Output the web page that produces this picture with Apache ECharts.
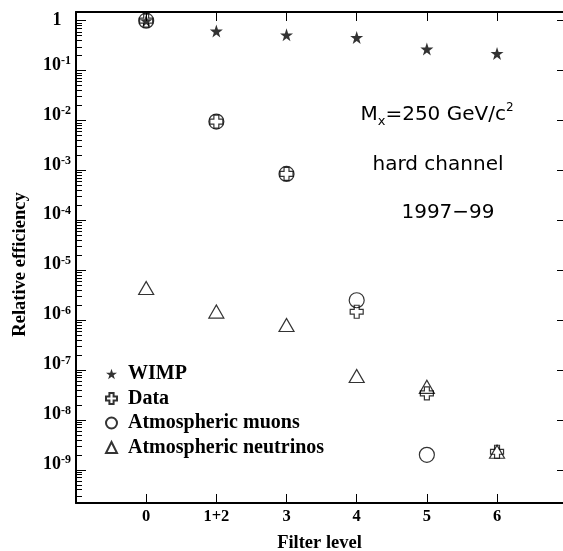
<!DOCTYPE html>
<html>
<head>
<meta charset="utf-8">
<title>Relative efficiency</title>
<script src="https://cdn.jsdelivr.net/npm/echarts@6.0.0/dist/echarts.min.js"></script>
<style>
  html, body { margin: 0; padding: 0; background: #fff; }
  #chart { width: 563px; height: 551px; }
</style>
</head>
<body>
<div id="chart"></div>
<script>
// values
var filterLevels = ['0', '1+2', '3', '4', '5', '6'];
var wimp = [1, 0.62, 0.52, 0.46, 0.27, 0.22];
var dataEvents = [1, 9.5e-3, 8.5e-4, 1.47e-6, 3.4e-8, 2.3e-9];
var atmMuons = [1, 9.5e-3, 8.5e-4, 2.5e-6, 2.0e-9, null];
var atmNeutrinos = [4.4e-6, 1.48e-6, 8.0e-7, 7.6e-8, 4.6e-8, 2.3e-9];
var decadeExponents = [0, -1, -2, -3, -4, -5, -6, -7, -8, -9];

var yMin = Math.pow(10, -9.665);
var yMax = Math.pow(10, 0.174);
var tickFactor = Math.pow(10, 9 / 49.9); // ~9px on the log axis

var decadeTicks = decadeExponents.map(function (e) { return Math.pow(10, e); });
var minorTicks = [];
for (var e = -10; e <= 0; e++) {
    for (var k = 2; k <= 9; k++) {
        var v = k * Math.pow(10, e);
        if (v > yMin && v < yMax) minorTicks.push(v);
    }
}

function points(arr) {
    var out = [];
    arr.forEach(function (v, i) { if (v != null) out.push([i, v]); });
    return out;
}

// x ticks on the bottom and top frame lines
var xTickLines = [];
filterLevels.forEach(function (lbl, i) {
    xTickLines.push([{ coord: [i, yMin] }, { coord: [i, yMin * tickFactor] }]);
    xTickLines.push([{ coord: [i, yMax] }, { coord: [i, yMax / tickFactor] }]);
});

var starPath = 'path://M50,0 L61.8,35.1 L98.1,35.1 L68.8,56.7 L79.4,90.9 L50,69.1 L20.6,90.9 L31.2,56.7 L1.9,35.1 L38.2,35.1 Z';
var crossPath = 'path://M31,0 L69,0 L69,31 L100,31 L100,69 L69,69 L69,100 L31,100 L31,69 L0,69 L0,31 L31,31 Z';

var serif = 'Liberation Serif';
var hollow = { color: 'rgba(0,0,0,0)', borderColor: '#000', borderWidth: 1.2 };

var chart = echarts.init(document.getElementById('chart'));

chart.setOption({
    animation: false,
    backgroundColor: '#fff',
    grid: { left: 76, right: 0, top: 12, bottom: 48, outerBoundsMode: 'none' },
    legend: {
        orient: 'vertical',
        left: 100,
        top: 359,
        itemWidth: 11,
        itemHeight: 11,
        itemGap: 4.5,
        textStyle: { fontFamily: serif, fontWeight: 'bold', fontSize: 20, color: '#000', lineHeight: 20, padding: [0, 0, 0, 6] },
        data: ['WIMP', 'Data', 'Atmospheric muons', 'Atmospheric neutrinos']
    },
    xAxis: [{
        type: 'value',
        min: -1,
        max: 5.94,
        interval: 1,
        name: 'Filter level',
        nameLocation: 'middle',
        nameGap: 31,
        nameTextStyle: { fontFamily: serif, fontWeight: 'bold', fontSize: 18.5, color: '#000' },
        axisLine: { onZero: false, lineStyle: { color: '#000', width: 2 } },
        axisTick: { show: true, inside: true, length: 9, lineStyle: { color: '#000', width: 1 } },
        axisLabel: {
            margin: 5,
            fontFamily: serif, fontWeight: 'bold', fontSize: 16.5, color: '#000',
            formatter: function (v) { return filterLevels[v] || ''; }
        },
        splitLine: { show: false }
    }, {
        type: 'value',
        position: 'top',
        min: -1,
        max: 5.94,
        interval: 1,
        axisLine: { onZero: false, lineStyle: { color: '#000', width: 2 } },
        axisTick: { show: true, inside: true, length: 9, lineStyle: { color: '#000', width: 1 } },
        axisLabel: { show: false },
        splitLine: { show: false }
    }],
    yAxis: [{
        type: 'log',
        min: yMin,
        max: yMax,
        name: 'Relative efficiency',
        nameLocation: 'middle',
        nameGap: 46,
        nameTextStyle: { fontFamily: serif, fontWeight: 'bold', fontSize: 18.5, color: '#000', padding: [0, 14, 0, 0] },
        axisLine: { onZero: false, lineStyle: { color: '#000', width: 2 } },
        axisTick: { inside: true, length: 10, lineStyle: { color: '#000', width: 1 }, customValues: decadeTicks },
        axisLabel: {
            customValues: decadeTicks,
            margin: 19,
            align: 'center',
            formatter: function (v) {
                var p = Math.round(Math.log10(v));
                if (p === 0) return '{b|1}';
                return '{b|10}{s|' + p + '}\n{g| }';
            },
            rich: {
                b: { fontFamily: serif, fontWeight: 'bold', fontSize: 18, color: '#000', lineHeight: 20 },
                s: { fontFamily: serif, fontWeight: 'bold', fontSize: 12, color: '#000', lineHeight: 12, verticalAlign: 'top' },
                g: { fontSize: 10, lineHeight: 11 }
            }
        },
        splitLine: { show: false }
    }, {
        type: 'log',
        position: 'right',
        min: yMin,
        max: yMax,
        axisLine: { show: false, onZero: false },
        axisTick: { inside: true, length: 6, lineStyle: { color: '#000', width: 1 }, customValues: decadeTicks },
        axisLabel: { show: false },
        splitLine: { show: false }
    }, {
        type: 'log',
        position: 'left',
        min: yMin,
        max: yMax,
        axisLine: { show: false, onZero: false },
        axisTick: { inside: true, length: 6, lineStyle: { color: '#000', width: 1 }, customValues: minorTicks },
        axisLabel: { show: false },
        splitLine: { show: false }
    }],
    series: [{
        name: 'Atmospheric neutrinos',
        type: 'scatter',
        symbol: 'triangle',
        symbolSize: [15, 13],
        itemStyle: hollow,
        data: points(atmNeutrinos)
    }, {
        name: 'Atmospheric muons',
        type: 'scatter',
        symbol: 'circle',
        symbolSize: 15,
        itemStyle: hollow,
        data: points(atmMuons)
    }, {
        name: 'Data',
        type: 'scatter',
        symbol: crossPath,
        symbolSize: 13,
        itemStyle: hollow,
        data: points(dataEvents)
    }, {
        name: 'WIMP',
        type: 'scatter',
        symbol: starPath,
        symbolSize: 13,
        itemStyle: { color: '#000', borderWidth: 0 },
        data: points(wimp),
        markLine: {
            silent: true,
            symbol: ['none', 'none'],
            label: { show: false },
            lineStyle: { color: '#000', width: 1, type: 'solid' },
            emphasis: { disabled: true },
            data: xTickLines
        }
    }],
    graphic: [{
        type: 'text', x: 437, y: 115,
        style: {
            text: '{m|M}{sub|x}{m|=250 GeV/c}{sup|2}',
            align: 'center', verticalAlign: 'middle',
            rich: {
                m: { fontFamily: 'DejaVu Sans', fontSize: 20, fill: '#000', lineHeight: 26 },
                sub: { fontFamily: 'DejaVu Sans', fontSize: 13, fill: '#000', lineHeight: 13, verticalAlign: 'bottom' },
                sup: { fontFamily: 'DejaVu Sans', fontSize: 12, fill: '#000', lineHeight: 18, verticalAlign: 'top' }
            }
        }
    }, {
        type: 'text', x: 438, y: 165,
        style: { text: 'hard channel', fontFamily: 'DejaVu Sans', fontSize: 20, fill: '#000', align: 'center', verticalAlign: 'middle' }
    }, {
        type: 'text', x: 448, y: 213,
        style: { text: '1997\u221299', fontFamily: 'DejaVu Sans', fontSize: 20, fill: '#000', align: 'center', verticalAlign: 'middle' }
    }]
});
</script>
</body>
</html>
